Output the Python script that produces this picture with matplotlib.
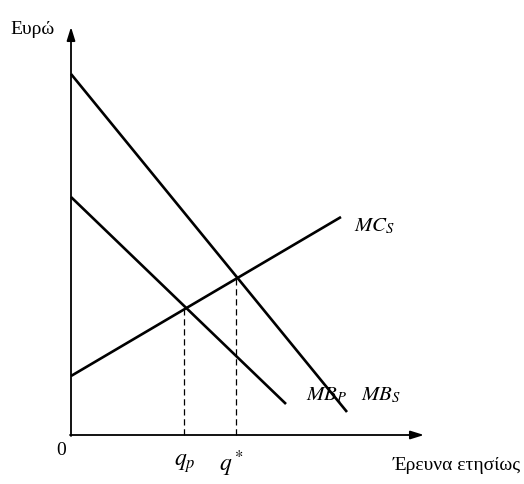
import numpy as np
import matplotlib
matplotlib.use('Agg')
import matplotlib.pyplot as plt

plt.rcParams['mathtext.fontset'] = 'stix'
plt.rcParams['font.family'] = ['Liberation Serif', 'DejaVu Serif']

# line end points (quantity, euro)
mbs_x = [0, 276]
mbs_y = [361, 23]
mbp_x = [0, 215]
mbp_y = [238, 31]
mcs_x = [0, 270]
mcs_y = [59, 218]

curve_labels = [r'$MB_S$', r'$MB_P$', r'$MC_S$']
y_label = 'Ευρώ'
x_label = 'Έρευνα ετησίως'


def line_coef(xs, ys):
    m = (ys[1] - ys[0]) / (xs[1] - xs[0])
    return m, ys[0] - m * xs[0]


def intersect(a, b):
    m1, c1 = line_coef(*a)
    m2, c2 = line_coef(*b)
    x = (c2 - c1) / (m1 - m2)
    return x, m1 * x + c1


fig = plt.figure(figsize=(5.24, 4.85), dpi=100)
ax = fig.add_axes([0, 0, 1, 1])
ax.set_xlim(-71, 453)
ax.set_ylim(-49, 436)
ax.axis('off')

# axes with arrows
ax.annotate('', xy=(0, 408), xytext=(0, -1),
            arrowprops=dict(arrowstyle='-|>,head_length=0.8,head_width=0.25', lw=1.3, color='black',
                            shrinkA=0, shrinkB=0))
ax.annotate('', xy=(353, 0), xytext=(-1, 0),
            arrowprops=dict(arrowstyle='-|>,head_length=0.8,head_width=0.25', lw=1.3, color='black',
                            shrinkA=0, shrinkB=0))

for xs, ys in [(mbs_x, mbs_y), (mbp_x, mbp_y), (mcs_x, mcs_y)]:
    ax.plot(xs, ys, color='black', lw=1.9, solid_capstyle='butt')

qp, ep = intersect((mbp_x, mbp_y), (mcs_x, mcs_y))
qs, es = intersect((mbs_x, mbs_y), (mcs_x, mcs_y))
for q, e in [(qp, ep), (qs, es)]:
    ax.plot([q - 2, q - 2], [0, e], color='black', lw=0.9, ls=(0, (5, 3)))

ax.text(mbs_x[1] + 14, mbs_y[1] + 18, curve_labels[0], fontsize=15, va='center', ha='left')
ax.text(mbp_x[1] + 20, mbp_y[1] + 10, curve_labels[1], fontsize=15, va='center', ha='left')
ax.text(mcs_x[1] + 13, mcs_y[1] - 8, curve_labels[2], fontsize=15, va='center', ha='left')

ax.text(qp - 2, -28, r'$q_p$', fontsize=17, ha='center', va='center')
ax.text(qs - 6, -28, r'$q^*$', fontsize=17, ha='center', va='center')
ax.text(-10, -15, '0', fontsize=14, ha='center', va='center')
ax.text(-38, 406, y_label, fontsize=14, ha='center', va='center')
ax.text(386, -30, x_label, fontsize=14, ha='center', va='center')

fig.savefig('out.png', dpi=100)
